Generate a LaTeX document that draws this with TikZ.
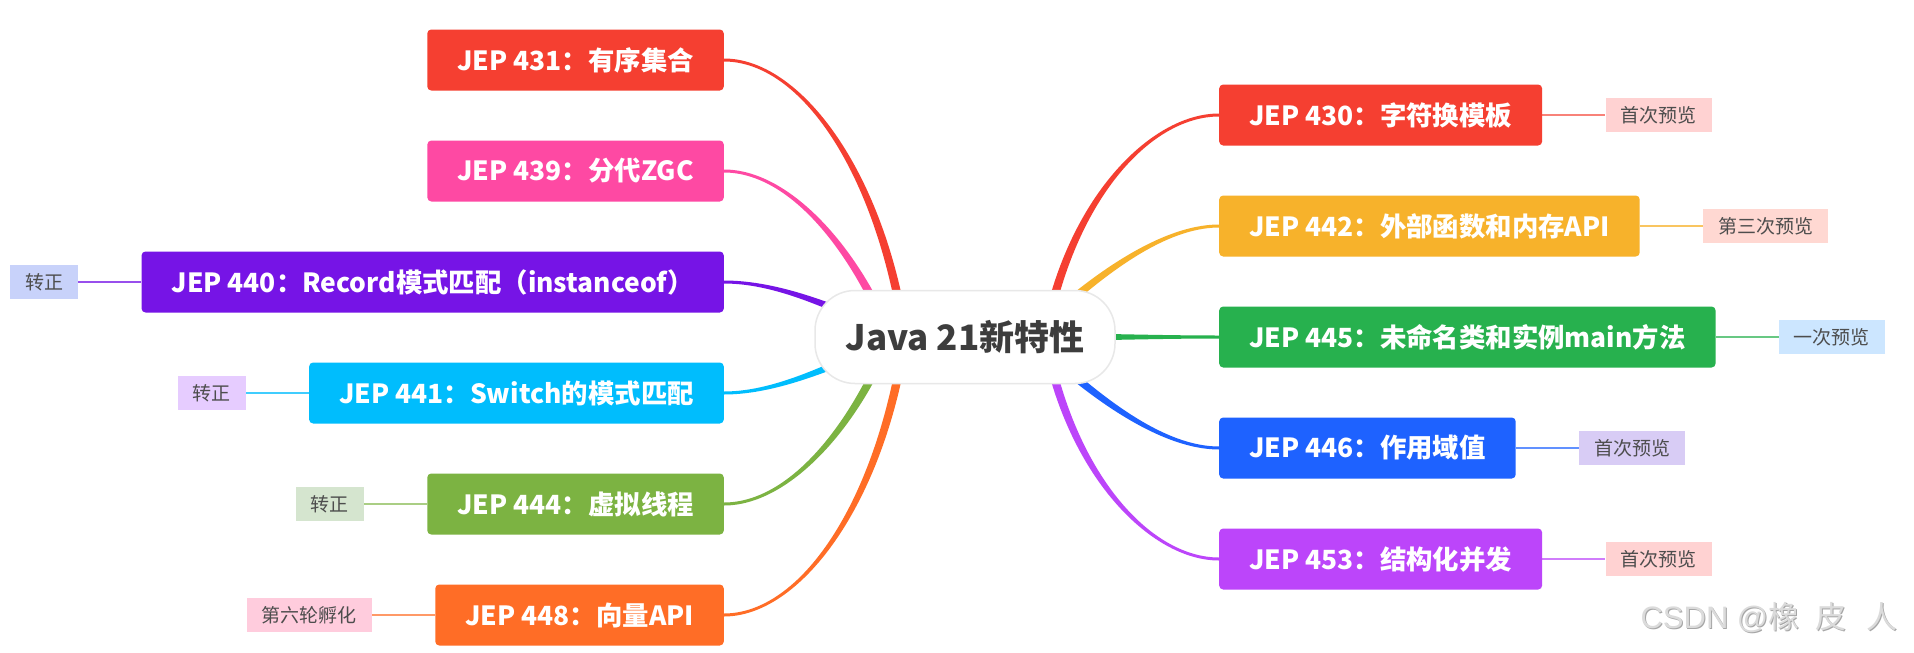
\documentclass[tikz,border=0pt]{standalone}
\usepackage{fontspec}
\setmainfont{Noto Sans CJK SC}
\newfontfamily\markfont{Liberation Sans}
\usetikzlibrary{positioning,calc}
\pgfdeclarelayer{branches}
\pgfsetlayers{branches,main}
\definecolor{jepRed}{HTML}{F53F31}
\definecolor{jepPink}{HTML}{FE49A3}
\definecolor{jepViolet}{HTML}{7614E6}
\definecolor{jepCyan}{HTML}{00BDFD}
\definecolor{jepLime}{HTML}{7CB342}
\definecolor{jepOrange}{HTML}{FF6D26}
\definecolor{jepAmber}{HTML}{F7B22B}
\definecolor{jepGreen}{HTML}{27B14E}
\definecolor{jepBlue}{HTML}{1E62FF}
\definecolor{jepPurple}{HTML}{BC45FA}
\definecolor{tagRose}{HTML}{FFD2D2}
\definecolor{tagSalmon}{HTML}{FFD8D2}
\definecolor{tagSky}{HTML}{CCE6FF}
\definecolor{tagLavender}{HTML}{D8CCF5}
\definecolor{tagPeri}{HTML}{C8D2FA}
\definecolor{tagLilac}{HTML}{E6CCFF}
\definecolor{tagSage}{HTML}{D5E5CF}
\definecolor{tagPink}{HTML}{FFCCDD}
\definecolor{tagText}{HTML}{4D4D4D}
\definecolor{rootText}{HTML}{3D3D3D}
\newcommand{\boxfont}{\fontsize{26.4}{32}\selectfont\bfseries}
\newcommand{\tagfont}{\fontsize{19}{23}\selectfont}
\tikzset{
  jep box/.style={fill=#1,text=white,rounded corners=4pt,minimum height=61pt,
    inner xsep=30pt,inner ysep=0pt,font=\boxfont},
  jep tag/.style={fill=#1,text=tagText,minimum height=34pt,inner xsep=15pt,
    inner ysep=0pt,font=\tagfont},
  jep link/.style={draw=#1,line width=1.2pt},
  root node/.style={fill=white,draw=black!9,line width=1.5pt,rounded corners=40pt,
    minimum width=300pt,minimum height=93pt,text=rootText,
    font=\fontsize{35}{40}\selectfont\bfseries},
  watermark/.style={font=\fontsize{31}{35}\selectfont,inner sep=0pt}
}
% tapered branch: colour, start, control near start, control near end, end
\newcommand{\jepbranch}[5]{%
  \coordinate (br-s) at #2;
  \coordinate (br-a) at #3;
  \coordinate (br-b) at #4;
  \coordinate (br-e) at #5;
  \coordinate (br-s1) at ($(br-s)!4.3pt!90:(br-a)$);
  \coordinate (br-s2) at ($(br-s)!4.3pt!-90:(br-a)$);
  \coordinate (br-e1) at ($(br-e)!1.5pt!-90:(br-b)$);
  \coordinate (br-e2) at ($(br-e)!1.5pt!90:(br-b)$);
  \fill[#1] (br-s1) .. controls ($(br-a)+(br-s1)-(br-s)$) and ($(br-b)+(br-e1)-(br-e)$) .. (br-e1)
    -- (br-e2) .. controls ($(br-b)+(br-e2)-(br-e)$) and ($(br-a)+(br-s2)-(br-s)$) .. (br-s2) -- cycle;
}
\begin{document}
\begin{tikzpicture}[x=1pt,y=-1pt]
  \useasboundingbox (0,0) rectangle (1914,653);

  % Root.
  \node[root node] (root) at (965,337) {Java 21新特性};

  % Left features.
  \node[jep box=jepRed,anchor=east] (n431) at (724,60) {JEP 431：有序集合};
  \node[jep box=jepPink,anchor=east] (n439) at (724,171) {JEP 439：分代ZGC};
  \node[jep box=jepViolet,anchor=east] (n440) at (724,282) {JEP 440：Record模式匹配（instanceof）};
  \node[jep box=jepCyan,anchor=east] (n441) at (724,393) {JEP 441：Switch的模式匹配};
  \node[jep box=jepLime,anchor=east] (n444) at (724,504) {JEP 444：虚拟线程};
  \node[jep box=jepOrange,anchor=east] (n448) at (724,615) {JEP 448：向量API};
  \node[jep tag=tagPeri,left=63pt of n440] (t440) {转正};
  \node[jep tag=tagLilac,left=63pt of n441] (t441) {转正};
  \node[jep tag=tagSage,left=63pt of n444] (t444) {转正};
  \node[jep tag=tagPink,left=63pt of n448] (t448) {第六轮孵化};

  % Right features.
  \node[jep box=jepRed,anchor=west] (n430) at (1219,115) {JEP 430：字符换模板};
  \node[jep box=jepAmber,anchor=west] (n442) at (1219,226) {JEP 442：外部函数和内存API};
  \node[jep box=jepGreen,anchor=west] (n445) at (1219,337) {JEP 445：未命名类和实例main方法};
  \node[jep box=jepBlue,anchor=west] (n446) at (1219,448) {JEP 446：作用域值};
  \node[jep box=jepPurple,anchor=west] (n453) at (1219,559) {JEP 453：结构化并发};
  \node[jep tag=tagRose,right=63pt of n430] (t430) {首次预览};
  \node[jep tag=tagSalmon,right=63pt of n442] (t442) {第三次预览};
  \node[jep tag=tagSky,right=63pt of n445] (t445) {一次预览};
  \node[jep tag=tagLavender,right=63pt of n446] (t446) {首次预览};
  \node[jep tag=tagRose,right=63pt of n453] (t453) {首次预览};

  \begin{pgfonlayer}{branches}
    \fill[white] (0,0) rectangle (1914,653);
    \jepbranch{jepRed}{($(root.center)+(-60,0)$)}{(880,170)}{(800,60)}{(n431.east)}
    \jepbranch{jepPink}{($(root.center)+(-75,0)$)}{(855,250)}{(790,171)}{(n439.east)}
    \jepbranch{jepViolet}{($(root.center)+(-65,0)$)}{(840,310)}{(780,282)}{(n440.east)}
    \jepbranch{jepCyan}{($(root.center)+(-65,0)$)}{(840,362)}{(780,393)}{(n441.east)}
    \jepbranch{jepLime}{($(root.center)+(-75,0)$)}{(855,425)}{(790,504)}{(n444.east)}
    \jepbranch{jepOrange}{($(root.center)+(-60,0)$)}{(880,505)}{(800,615)}{(n448.east)}
    \jepbranch{jepRed}{($(root.center)+(80,0)$)}{(1070,200)}{(1150,115)}{(n430.west)}
    \jepbranch{jepAmber}{($(root.center)+(65,0)$)}{(1090,280)}{(1160,226)}{(n442.west)}
    \jepbranch{jepGreen}{($(root.center)+(35,0)$)}{(1080,337)}{(1150,337)}{(n445.west)}
    \jepbranch{jepBlue}{($(root.center)+(65,0)$)}{(1090,394)}{(1160,448)}{(n446.west)}
    \jepbranch{jepPurple}{($(root.center)+(80,0)$)}{(1070,474)}{(1150,559)}{(n453.west)}

    \draw[jep link=jepViolet!75] (t440) -- (n440);
    \draw[jep link=jepCyan!75] (t441) -- (n441);
    \draw[jep link=jepLime!65] (t444) -- (n444);
    \draw[jep link=jepOrange!70] (t448) -- (n448);
    \draw[jep link=jepRed!65] (n430) -- (t430);
    \draw[jep link=jepAmber!75] (n442) -- (t442);
    \draw[jep link=jepGreen!70] (n445) -- (t445);
    \draw[jep link=jepBlue!70] (n446) -- (t446);
    \draw[jep link=jepPurple!70] (n453) -- (t453);
  \end{pgfonlayer}

  % Watermark.
  \node[watermark,text=black!35] (mark shadow) at (1770,619)
    {{\markfont CSDN @}橡\hspace{16pt}皮\hspace{20pt}人};
  \node[watermark,text=black!14] (mark) at (1769,618)
    {{\markfont CSDN @}橡\hspace{16pt}皮\hspace{20pt}人};
\end{tikzpicture}
\end{document}
